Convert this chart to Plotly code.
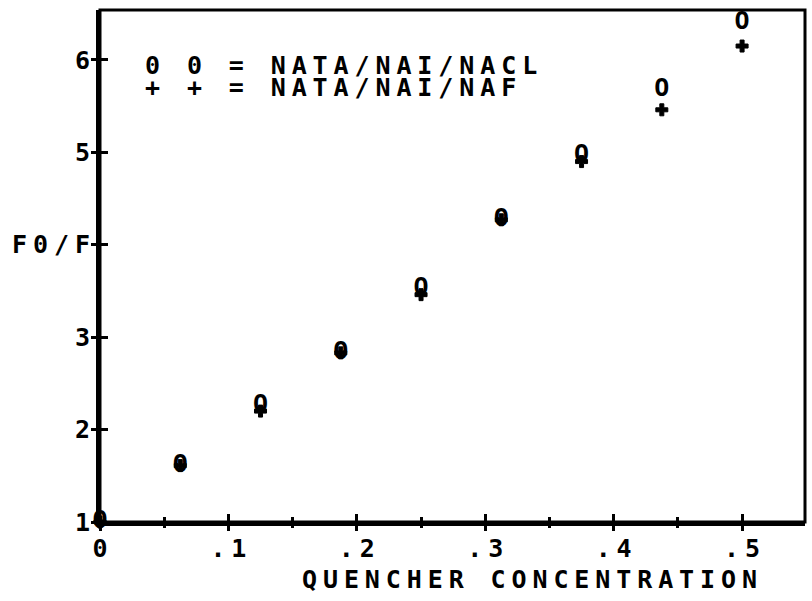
import plotly.graph_objects as go

# ---- data ----
conc = [0, 0.0625, 0.125, 0.1875, 0.25, 0.3125, 0.375, 0.4375, 0.5]
f0f_nacl = [1.0, 1.61, 2.26, 2.83, 3.52, 4.27, 4.96, 5.68, 6.40]
f0f_naf = [1.0, 1.61, 2.20, 2.83, 3.46, 4.27, 4.90, 5.46, 6.15]

series_names = ["NATA/NAI/NACL", "NATA/NAI/NAF"]
series_symbols = ["0 0", "+ +"]

x_tickvals = [0, 0.1, 0.2, 0.3, 0.4, 0.5]
x_ticktext = ["0", ".1", ".2", ".3", ".4", ".5"]
x_minor = [0.05, 0.15, 0.25, 0.35, 0.45]
y_tickvals = [1, 2, 3, 4, 5, 6]
y_ticktext = ["1", "2", "3", "F0/F", "5", "6"]
x_title = "QUENCHER CONCENTRATION"

FONT = "DejaVu Sans Mono"
SIZE = 25
LS = 5.9


def spaced(s):
    """Widen character pitch (no trailing space after the last char)."""
    if len(s) <= 1:
        return s
    return '<span style="letter-spacing:%gpx">%s</span>%s' % (LS, s[:-1], s[-1])


fig = go.Figure()

# "+" series drawn on the overlay axes (identical ranges) so those axes render
fig.add_trace(go.Scatter(
    x=conc, y=f0f_naf, mode="markers", name=series_names[1],
    xaxis="x2", yaxis="y2",
    marker=dict(symbol="cross", size=10, color="black",
                line=dict(width=1, color="black")),
    cliponaxis=False, showlegend=False,
))
fig.add_trace(go.Scatter(
    x=conc, y=f0f_nacl, mode="text", name=series_names[0],
    text=["O"] * len(conc), textposition="middle center",
    textfont=dict(family=FONT, size=25, color="black", weight="bold"),
    cliponaxis=False, showlegend=False,
))

xr = [0, 0.549]
yr = [1, 6.54]
tickfont = dict(family=FONT, size=SIZE, color="black", weight="bold")

fig.update_layout(
    width=812, height=601,
    margin=dict(l=100, r=7, t=10, b=79),
    paper_bgcolor="white", plot_bgcolor="white",
    font=dict(family=FONT, color="black"),
    xaxis=dict(
        range=xr, showgrid=False, zeroline=False,
        showline=True, linewidth=4, linecolor="black",
        ticks="inside", ticklen=8, tickwidth=3, tickcolor="black",
        tickvals=x_tickvals, ticktext=[spaced(t) for t in x_ticktext],
        tickfont=tickfont, ticklabelstandoff=1,
        minor=dict(tickvals=x_minor, ticks="inside",
                   ticklen=5, tickwidth=3, tickcolor="black", showgrid=False),
    ),
    xaxis2=dict(
        range=xr, overlaying="x", anchor="y", side="bottom",
        showgrid=False, zeroline=False, showline=False,
        ticks="outside", ticklen=8, tickwidth=3, tickcolor="black",
        tickvals=x_tickvals, showticklabels=False,
        minor=dict(tickvals=x_minor, ticks="outside",
                   ticklen=5, tickwidth=3, tickcolor="black", showgrid=False),
    ),
    yaxis=dict(
        range=yr, showgrid=False, zeroline=False,
        showline=True, linewidth=4, linecolor="black",
        ticks="inside", ticklen=8, tickwidth=3, tickcolor="black",
        tickvals=y_tickvals, ticktext=[spaced(t) for t in y_ticktext],
        tickfont=tickfont, ticklabelstandoff=1,
    ),
    yaxis2=dict(
        range=yr, overlaying="y", anchor="x", side="left",
        showgrid=False, zeroline=False, showline=False,
        ticks="outside", ticklen=8, tickwidth=3, tickcolor="black",
        tickvals=y_tickvals, showticklabels=False,
    ),
    shapes=[dict(type="rect", xref="paper", yref="paper", x0=0, y0=0, x1=1, y1=1,
                 line=dict(color="black", width=3), layer="above")],
)

legend_font = dict(family=FONT, size=SIZE, color="black", weight="bold")
for i, (sym, name) in enumerate(zip(series_symbols, series_names)):
    fig.add_annotation(
        xref="paper", yref="paper", x=0.061, y=[0.891, 0.848][i],
        xanchor="left", yanchor="middle", showarrow=False,
        text=spaced(sym + " = " + name), font=legend_font,
    )

fig.add_annotation(
    xref="paper", yref="paper", x=0.284, y=-0.112,
    xanchor="left", yanchor="middle", showarrow=False,
    text=spaced(x_title), font=legend_font,
)

fig.write_html("out.html", config={"displayModeBar": False},
               post_script="document.body.style.margin='0';document.body.style.padding='0';")
